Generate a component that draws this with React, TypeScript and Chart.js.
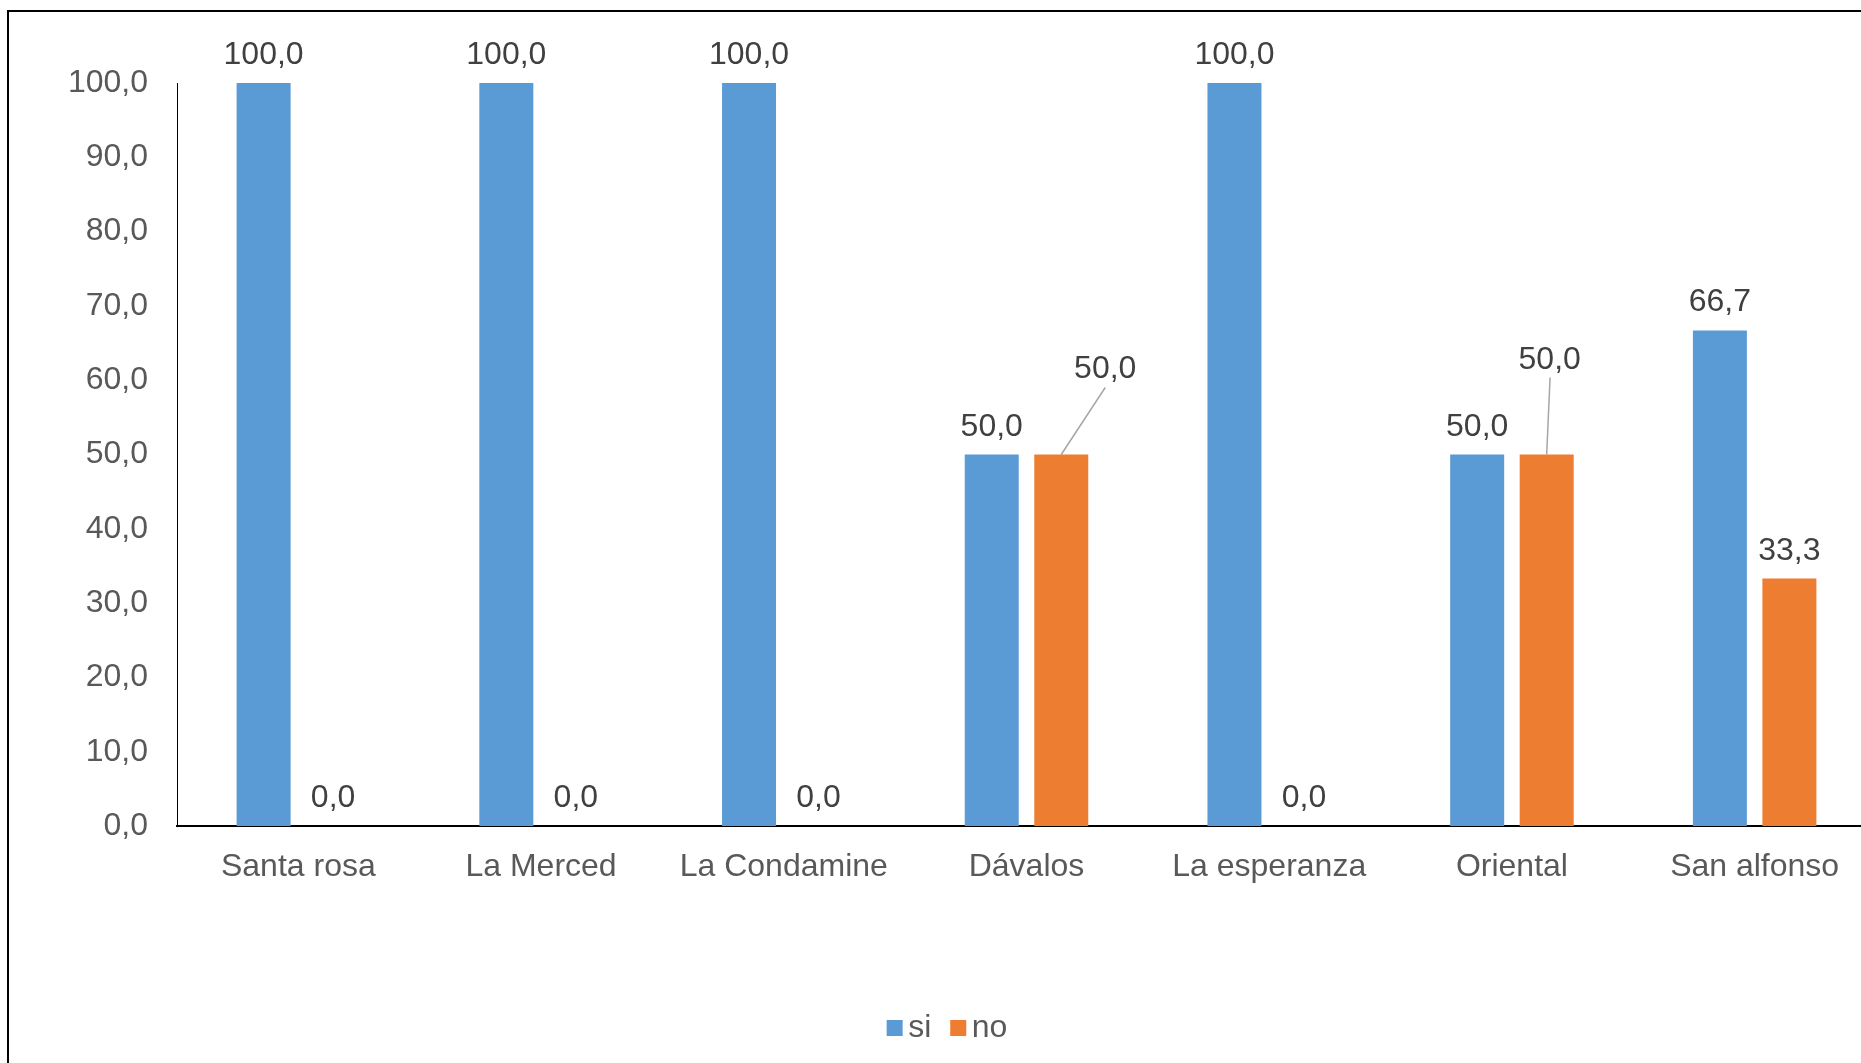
import React, { useEffect, useRef } from "react";
import { Chart, registerables } from "chart.js";

Chart.register(...registerables);

const categories = ["Santa rosa", "La Merced", "La Condamine", "Dávalos", "La esperanza", "Oriental", "San alfonso"];
const siValues = [100.0, 100.0, 100.0, 50.0, 100.0, 50.0, 66.7];
const noValues = [0.0, 0.0, 0.0, 50.0, 0.0, 50.0, 33.3];
const yTicks = [0, 10, 20, 30, 40, 50, 60, 70, 80, 90, 100];
const seriesNames = ["si", "no"];

const BLUE = "#5B9BD5";
const ORANGE = "#ED7D31";
const FONT = "'Liberation Sans', Arial, sans-serif";
const W = 1876;
const H = 1100;

const fmt = (v: number) => v.toFixed(1).replace(".", ",");

// callout label placements (dataset index, category index) -> offset from bar top
const callouts: Record<string, { dx: number; dy: number; lx: number; ly: number }> = {
  "1-3": { dx: 44, dy: -77, lx: 44, ly: -67 },
  "1-5": { dx: 3, dy: -86, lx: 3.4, ly: -77 },
};

const dataLabelPlugin = {
  id: "dataLabels",
  afterDatasetsDraw(chart: any) {
    const ctx = chart.ctx;
    ctx.save();
    ctx.font = `32px ${FONT}`;
    ctx.fillStyle = "#404040";
    ctx.textAlign = "center";
    ctx.textBaseline = "alphabetic";
    chart.data.datasets.forEach((ds: any, di: number) => {
      const meta = chart.getDatasetMeta(di);
      meta.data.forEach((bar: any, i: number) => {
        const v = ds.data[i];
        const c = callouts[`${di}-${i}`];
        if (c) {
          ctx.strokeStyle = "#a6a6a6";
          ctx.lineWidth = 1.5;
          ctx.beginPath();
          ctx.moveTo(bar.x, bar.y);
          ctx.lineTo(bar.x + c.lx, bar.y + c.ly);
          ctx.stroke();
          ctx.fillText(fmt(v), bar.x + c.dx, bar.y + c.dy);
        } else {
          ctx.fillText(fmt(v), bar.x, bar.y - 19);
        }
      });
    });
    ctx.restore();
  },
};

const legendPlugin = {
  id: "customLegend",
  afterDraw(chart: any) {
    const ctx = chart.ctx;
    ctx.save();
    ctx.font = `32px ${FONT}`;
    const box = 16;
    const gapText = 5.5;
    const gapItem = 19;
    const items = chart.data.datasets.map((d: any) => ({ label: d.label, color: d.backgroundColor }));
    const widths = items.map((it: any) => box + gapText + ctx.measureText(it.label).width);
    const total = widths.reduce((a: number, b: number) => a + b, 0) + gapItem * (items.length - 1);
    let x = chart.width / 2 - total / 2;
    const boxTop = 1008;
    const baseline = 1025.3;
    items.forEach((it: any, k: number) => {
      ctx.fillStyle = it.color;
      ctx.fillRect(x, boxTop, box, box);
      ctx.fillStyle = "#595959";
      ctx.textAlign = "left";
      ctx.textBaseline = "alphabetic";
      ctx.fillText(it.label, x + box + gapText, baseline);
      x += widths[k] + gapItem;
    });
    ctx.restore();
  },
};

export default function App() {
  const ref = useRef<HTMLCanvasElement | null>(null);

  useEffect(() => {
    if (!ref.current) return;
    const chart = new Chart(ref.current, {
      type: "bar",
      data: {
        labels: categories,
        datasets: [
          {
            label: seriesNames[0],
            data: siValues,
            backgroundColor: BLUE,
            categoryPercentage: 0.5727,
            barPercentage: 0.777,
          },
          {
            label: seriesNames[1],
            data: noValues,
            backgroundColor: ORANGE,
            categoryPercentage: 0.5727,
            barPercentage: 0.777,
          },
        ],
      },
      options: {
        responsive: false,
        animation: false,
        devicePixelRatio: 1,
        layout: { padding: { top: 71, right: W - 1867, bottom: 0, left: 0 } },
        plugins: {
          legend: { display: false },
          tooltip: { enabled: false },
        },
        scales: {
          x: {
            grid: { display: false, drawTicks: false },
            border: { display: true, color: "#000000", width: 2 },
            ticks: {
              autoSkip: false,
              maxRotation: 0,
              minRotation: 0,
              padding: 22,
              color: "#595959",
              font: { family: FONT, size: 32 },
            },
            afterFit(scale: any) {
              scale.height = H - 814;
            },
          },
          y: {
            min: 0,
            max: 100,
            afterBuildTicks(scale: any) {
              scale.ticks = yTicks.map((v) => ({ value: v }));
            },
            grid: { display: false, drawTicks: false },
            border: { display: true, color: "#000000", width: 1 },
            ticks: {
              padding: 29,
              color: "#595959",
              font: { family: FONT, size: 32 },
              callback: (v: any) => fmt(Number(v)),
            },
            afterFit(scale: any) {
              scale.width = 168;
            },
          },
        },
      },
      plugins: [dataLabelPlugin, legendPlugin],
    });
    return () => chart.destroy();
  }, []);

  return (
    <div style={{ position: "fixed", left: 0, top: 0, width: 1861, height: 1063, overflow: "hidden", background: "#fff" }}>
      <div style={{ position: "absolute", left: 7, top: 10, border: "2px solid #000", width: W, height: H }}>
        <canvas ref={ref} width={W} height={H} style={{ display: "block", width: W, height: H }} />
      </div>
    </div>
  );
}
